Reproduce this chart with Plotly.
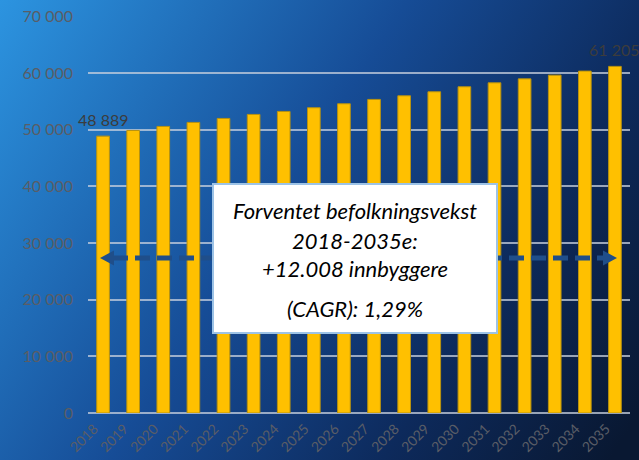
import base64
import plotly.graph_objects as go

# ---- data ----
years = [str(y) for y in range(2018, 2036)]
population = [48889, 49890, 50600, 51310, 52010, 52720, 53250, 53900, 54600,
              55370, 56010, 56720, 57600, 58300, 59000, 59660, 60370, 61205]
y_ticks = [0, 10000, 20000, 30000, 40000, 50000, 60000, 70000]
box_lines = ["Forventet befolkningsvekst", "2018-2035e:", "+12.008 innbyggere"]
box_cagr = "(CAGR): 1,29%"

W, H = 639, 460
ML, MR, MT, MB = 88, 9, 16, 47
PW, PH = W - ML - MR, H - MT - MB


def px(x):
    return (x - ML) / PW


def py(y):
    return (H - MB - y) / PH


# background gradient as SVG
svg = f'''<svg xmlns="http://www.w3.org/2000/svg" width="{W}" height="{H}" viewBox="0 0 {W} {H}" preserveAspectRatio="none">
<defs><linearGradient id="g" x1="0" y1="0" x2="{W}" y2="{H*0.9}" gradientUnits="userSpaceOnUse">
<stop offset="0" stop-color="rgb(44,148,224)"/>
<stop offset="0.45" stop-color="rgb(22,76,150)"/>
<stop offset="0.75" stop-color="rgb(13,42,92)"/>
<stop offset="1" stop-color="rgb(9,24,50)"/>
</linearGradient></defs>
<rect x="0" y="0" width="{W}" height="{H}" fill="url(#g)"/></svg>'''
bg_src = "data:image/svg+xml;base64," + base64.b64encode(svg.encode()).decode()

idx = list(range(len(years)))

fig = go.Figure()
fig.add_trace(go.Bar(
    x=idx, y=population,
    marker=dict(color="#FFC000", line=dict(color="#B8920F", width=1)),
    hoverinfo="skip",
))

annotations = []
for i in (0, len(population) - 1):
    annotations.append(dict(
        x=idx[i], y=population[i], xref="x", yref="y",
        text=f"{population[i]:,}".replace(",", " "),
        showarrow=False, yshift=17, yanchor="middle",
        font=dict(family="Lato, Carlito, sans-serif", size=16, color="#3c3c3c"),
    ))

text_font = dict(family="Lato, Carlito, sans-serif", size=22, color="#000000")
line_y = [210, 240, 268]
for t, yy in zip(box_lines, line_y):
    annotations.append(dict(x=px(355), y=py(yy), xref="paper", yref="paper",
                            text=f"<i>{t}</i>", showarrow=False, font=text_font,
                            xanchor="center", yanchor="middle"))
annotations.append(dict(x=px(355), y=py(308), xref="paper", yref="paper",
                        text=f"<i>{box_cagr}</i>", showarrow=False, font=text_font,
                        xanchor="center", yanchor="middle"))

ay = 258
arrow_col = "#1f4e8a"
shapes = [
    dict(type="line", xref="paper", yref="paper", x0=px(113), x1=px(605), y0=py(ay), y1=py(ay),
         line=dict(color=arrow_col, width=5, dash="15px,7px"), layer="above"),
    dict(type="path", xref="paper", yref="paper",
         path=f"M {px(100)} {py(ay)} L {px(114)} {py(ay-7.5)} L {px(114)} {py(ay+7.5)} Z",
         fillcolor=arrow_col, line=dict(width=0)),
    dict(type="path", xref="paper", yref="paper",
         path=f"M {px(617)} {py(ay)} L {px(603)} {py(ay-7.5)} L {px(603)} {py(ay+7.5)} Z",
         fillcolor=arrow_col, line=dict(width=0)),
    dict(type="rect", xref="paper", yref="paper", x0=px(213), x1=px(497), y0=py(184), y1=py(333),
         fillcolor="white", line=dict(color="#9DC3E6", width=2)),
]

fig.update_layout(
    width=W, height=H,
    margin=dict(l=ML, r=MR, t=MT, b=MB, pad=0, autoexpand=False),
    paper_bgcolor="#123a78",
    plot_bgcolor="rgba(0,0,0,0)",
    separators=", ",
    bargap=0.58,
    showlegend=False,
    images=[dict(source=bg_src, xref="paper", yref="paper",
                 x=-ML / PW, y=1 + MT / PH, sizex=W / PW, sizey=H / PH,
                 xanchor="left", yanchor="top", sizing="stretch", layer="below")],
    xaxis=dict(
        range=[-0.5, len(years) - 0.5], tickmode="array", tickvals=idx, ticktext=years,
        tickangle=-45, showgrid=False, showline=False, zeroline=False, ticks="",
        ticklabelstandoff=4, ticklabelshift=-9, automargin=False,
        tickfont=dict(family="Lato, Carlito, sans-serif", size=14, color="#5a5d66"),
    ),
    yaxis=dict(
        range=[0, 70100], tickvals=y_ticks, tickformat=",d", automargin=False,
        showgrid=True, gridcolor="rgba(200,208,222,0.75)", gridwidth=1.5,
        zeroline=True, zerolinecolor="rgba(200,208,222,0.75)", zerolinewidth=1.5,
        ticks="", ticklabelstandoff=14,
        tickfont=dict(family="Lato, Carlito, sans-serif", size=16, color="#5a5d66"),
    ),
    annotations=annotations,
    shapes=shapes,
)

fig.write_html("out.html", config={"displayModeBar": False},
               post_script="document.body.style.margin='0';")
